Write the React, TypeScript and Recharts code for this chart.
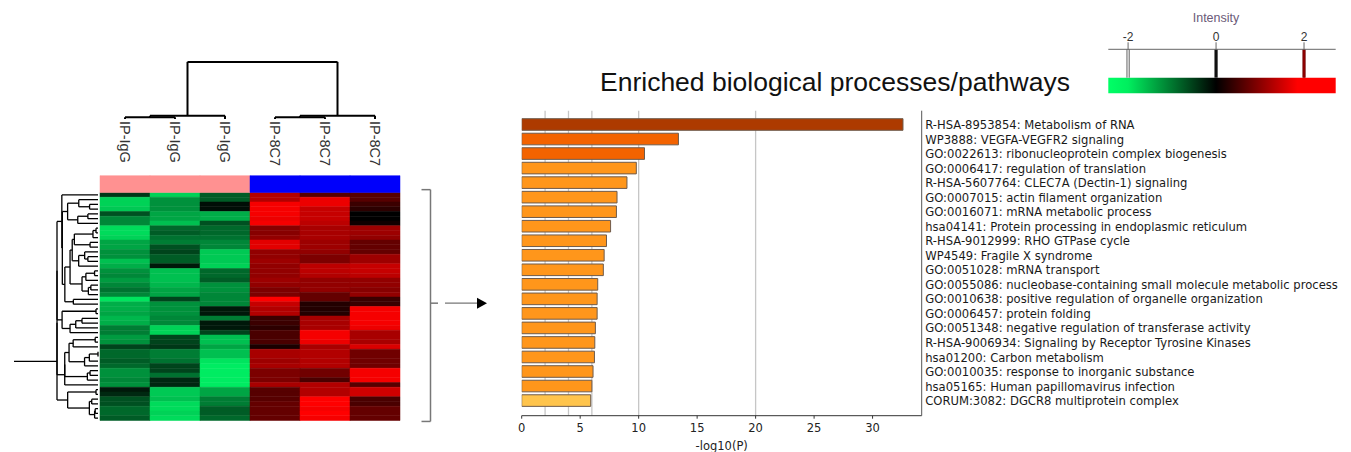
import {
  Bar,
  BarChart,
  CartesianGrid,
  Cell,
  ComposedChart,
  ReferenceArea,
  ReferenceDot,
  ReferenceLine,
  XAxis,
  YAxis,
} from "recharts";

const sampleNames = ["IP-IgG", "IP-IgG", "IP-IgG", "IP-8C7", "IP-8C7", "IP-8C7"];
const sampleGroups = ["IgG", "IgG", "IgG", "8C7", "8C7", "8C7"];

// heatmap intensity per sample, rows top to bottom
const iggA = [
  -0.3, -1.8, -1.8, -1.7, -0.5, -1.0, -1.0, -1.9, -1.9, -1.8, -1.3, -1.3, -1.1, -1.1, -1.6, -1.4,
  -1.1, -1.0, -1.2, -1.0, -0.8, -1.0, -2.0, -1.4, -1.4, -1.3, -1.5, -1.4, -0.9, -0.9, -1.2, -1.1,
  -0.4, -0.7, -0.7, -0.6, -0.7, -1.1, -1.1, -1.0, -1.1, -0.1, -0.2, -0.5, -0.5, -0.7, -0.7, -0.6,
];
const iggB = [
  -1.8, -1.1, -1.1, -1.1, -1.3, -1.3, -1.6, -0.7, -0.6, -0.8, -0.9, -0.5, -0.4, -0.6, -0.6, -0.1,
  -1.6, -1.6, -1.6, -1.5, -1.3, -1.3, -0.4, -1.1, -1.1, -1.1, -1.0, -1.0, -1.8, -1.8, -0.4, -0.4,
  -0.3, -0.9, -0.9, -0.8, -0.4, -0.4, -0.8, -0.2, -0.2, -1.7, -1.7, -1.6, -1.9, -1.9, -1.8, -1.9,
];
const iggC = [
  -0.6, -0.6, -0.05, -0.05, -1.4, -1.4, -0.5, -0.7, -0.7, -0.8, -1.0, -1.0, -1.7, -1.7, -1.7, -1.8,
  -0.7, -0.7, -0.6, -1.1, -1.1, -1.0, -1.0, -1.0, -0.1, -0.1, -0.9, -0.1, -0.1, -0.4, -1.6, -1.6,
  -1.3, -1.6, -1.6, -2.0, -2.2, -2.2, -2.2, -2.1, -2.2, -1.3, -1.3, -0.9, -0.9, -0.6, -0.6, -0.7,
];
const mabA = [
  1.3, 1.3, 2.0, 2.0, 2.0, 1.9, 2.0, 0.9, 0.9, 1.0, 1.8, 1.8, 1.0, 1.0, 1.1, 1.0,
  1.0, 1.0, 1.1, 1.0, 0.8, 0.8, 2.2, 1.5, 1.3, 1.3, 0.3, 0.3, 0.2, 0.4, 0.4, 0.4,
  0.1, 1.2, 1.2, 1.1, 1.2, 0.8, 0.8, 0.8, 1.2, 0.5, 0.5, 0.5, 0.6, 0.6, 0.6, 0.6,
];
const mabB = [
  0.5, 1.9, 1.9, 1.5, 1.5, 1.5, 1.4, 1.2, 1.2, 1.2, 1.1, 1.1, 1.0, 0.8, 0.8, 1.4,
  1.4, 1.3, 1.0, 1.0, 1.0, 0.6, 0.6, 0.15, 0.15, 0.15, 1.2, 1.2, 1.2, 2.0, 2.0, 1.9,
  1.2, 1.3, 1.3, 1.3, 1.3, 0.7, 0.7, 0.4, 1.3, 1.3, 1.3, 2.1, 2.1, 2.0, 2.1, 2.0,
];
const mabC = [
  0.5, 0.5, 0.3, 0.2, 0.0, 0.0, 0.05, 1.1, 1.1, 1.0, 0.6, 0.6, 0.6, 1.1, 1.1, 1.5,
  1.5, 1.4, 1.0, 1.0, 0.9, 1.0, 0.3, 0.3, 2.0, 2.0, 2.0, 2.0, 1.9, 1.2, 1.2, 1.2,
  1.7, 0.7, 0.7, 0.7, 0.7, 2.0, 2.0, 2.0, 0.5, 1.6, 1.6, 0.4, 0.4, 0.6, 0.6, 0.6,
];
const heatColumns = [iggA, iggB, iggC, mabA, mabB, mabC];

// sample tree, scipy style: [node, node, height]; leaves 0-5, merged nodes 6+
const colLinkage: [number, number, number][] = [
  [0, 1, 0.3],
  [6, 2, 0.55],
  [3, 4, 0.3],
  [8, 5, 0.55],
  [7, 9, 10],
];

const terms = [
  "R-HSA-8953854: Metabolism of RNA",
  "WP3888: VEGFA-VEGFR2 signaling",
  "GO:0022613: ribonucleoprotein complex biogenesis",
  "GO:0006417: regulation of translation",
  "R-HSA-5607764: CLEC7A (Dectin-1) signaling",
  "GO:0007015: actin filament organization",
  "GO:0016071: mRNA metabolic process",
  "hsa04141: Protein processing in endoplasmic reticulum",
  "R-HSA-9012999: RHO GTPase cycle",
  "WP4549: Fragile X syndrome",
  "GO:0051028: mRNA transport",
  "GO:0055086: nucleobase-containing small molecule metabolic process",
  "GO:0010638: positive regulation of organelle organization",
  "GO:0006457: protein folding",
  "GO:0051348: negative regulation of transferase activity",
  "R-HSA-9006934: Signaling by Receptor Tyrosine Kinases",
  "hsa01200: Carbon metabolism",
  "GO:0010035: response to inorganic substance",
  "hsa05165: Human papillomavirus infection",
  "CORUM:3082: DGCR8 multiprotein complex",
];
const logP = [
  32.6, 13.4, 10.5, 9.8, 9.0, 8.15, 8.1, 7.6, 7.25, 7.05, 6.98, 6.5, 6.45, 6.45, 6.3, 6.25,
  6.22, 6.1, 6.0, 5.9,
];
const logPTicks = [0, 5, 10, 15, 20, 25, 30];
const logPGrid = [2, 4, 6, 10, 20];
const intensityTicks = [-2, 0, 2];

const W = 1351;
const H = 452;
const MPL_FONT = "'DejaVu Sans', sans-serif";
const UI_FONT = "'Liberation Sans', Arial, sans-serif";

const nRows = iggA.length;
const heatRows = iggA.map((_, r) => heatColumns.map((col) => col[r]));
const barData = terms.map((term, i) => ({ term, value: logP[i] }));

// left panel axes: x in heatmap columns, y in heatmap rows
const LEFT_X: [number, number] = [-2, 8];
const LEFT_Y: [number, number] = [-38, 50];
const LEAF_X = -0.04;
const ROOT_X = -0.86;
const STUB_X = -1.72;

const INT_DOMAIN: [number, number] = [-2.45, 2.72];
const P_DOMAIN: [number, number] = [0, 34.2];

function heatColor(v: number) {
  const t = Math.min(1, Math.abs(v) / 2.1) ** 0.75;
  if (v < 0) return `rgb(0,${Math.round(236 * t)},${Math.round(98 * t)})`;
  return `rgb(${Math.round(255 * t)},0,0)`;
}

function barFill(v: number) {
  if (v > 20) return "#ad3a00";
  if (v > 10) return "#f36300";
  if (v >= 6) return "#ff961b";
  return "#ffc44c";
}

type Seg = [number, number, number, number];

// adjacency-constrained average linkage so the leaf order stays as drawn
function rowDendrogram(rows: number[][]) {
  const dist = (a: number[], b: number[]) =>
    Math.sqrt(a.reduce((s, v, i) => s + (v - b[i]) ** 2, 0));
  type Node = { y: number; h: number; m: number[] };
  const nodes: Node[] = rows.map((_, i) => ({ y: i + 0.5, h: 0, m: [i] }));
  const merges: { a: Node; b: Node; h: number }[] = [];
  while (nodes.length > 1) {
    let best = 0;
    let bestD = Infinity;
    for (let i = 0; i < nodes.length - 1; i++) {
      let s = 0;
      nodes[i].m.forEach((p) => nodes[i + 1].m.forEach((q) => (s += dist(rows[p], rows[q]))));
      const avg = s / (nodes[i].m.length * nodes[i + 1].m.length);
      if (avg < bestD) {
        bestD = avg;
        best = i;
      }
    }
    const a = nodes[best];
    const b = nodes[best + 1];
    const h = Math.max(bestD, a.h, b.h);
    merges.push({ a, b, h });
    nodes.splice(best, 2, { y: (a.y + b.y) / 2, h, m: [...a.m, ...b.m] });
  }
  const root = nodes[0];
  const xOf = (h: number) => LEAF_X - (h / root.h) * (LEAF_X - ROOT_X);
  const segs: Seg[] = [];
  merges.forEach(({ a, b, h }) => {
    segs.push([xOf(h), a.y, xOf(h), b.y]);
    segs.push([xOf(a.h), a.y, xOf(h), a.y]);
    segs.push([xOf(b.h), b.y, xOf(h), b.y]);
  });
  segs.push([ROOT_X, root.y, STUB_X, root.y]);
  return segs;
}

function colDendrogram() {
  const yOf = (h: number) => -15.5 - h * 1.2;
  const pos = heatColumns.map((_, i) => ({ x: i + 0.5, h: 0 }));
  const segs: Seg[] = [];
  colLinkage.forEach(([a, b, h]) => {
    const A = pos[a];
    const B = pos[b];
    segs.push([A.x, yOf(A.h), A.x, yOf(h)]);
    segs.push([B.x, yOf(B.h), B.x, yOf(h)]);
    segs.push([A.x, yOf(h), B.x, yOf(h)]);
    pos.push({ x: (A.x + B.x) / 2, h });
  });
  return segs;
}

const rowSegs = rowDendrogram(heatRows);
const colSegs = colDendrogram();

function seg([x1, y1, x2, y2]: Seg, stroke: string, width: number, key: string) {
  return (
    <ReferenceLine
      key={key}
      segment={[
        { x: x1, y: y1 },
        { x: x2, y: y2 },
      ]}
      stroke={stroke}
      strokeWidth={width}
      ifOverflow="visible"
    />
  );
}

function Heatmap() {
  const bracketTop = -0.6;
  const bracketBottom = nRows + 0.2;
  const mid = (bracketTop + bracketBottom) / 2 - 0.5;
  return (
    <ComposedChart
      width={500}
      height={418}
      data={[]}
      margin={{ top: 0, right: 0, bottom: 0, left: 0 }}
    >
      <XAxis type="number" dataKey="x" domain={LEFT_X} hide allowDataOverflow />
      <YAxis type="number" dataKey="y" domain={LEFT_Y} reversed hide allowDataOverflow />
      {heatRows.map((row, r) =>
        row.map((v, c) => (
          <ReferenceArea
            key={`c${r}-${c}`}
            x1={c}
            x2={c + 1}
            y1={r}
            y2={r + 1}
            fill={heatColor(v)}
            fillOpacity={1}
            stroke={heatColor(v)}
            strokeWidth={0.5}
            ifOverflow="visible"
          />
        )),
      )}
      {sampleGroups.map((g, c) => (
        <ReferenceArea
          key={`g${c}`}
          x1={c}
          x2={c + 1}
          y1={-3.55}
          y2={0}
          fill={g === "IgG" ? "#ff9191" : "#0000fb"}
          fillOpacity={1}
          stroke={g === "IgG" ? "#ff9191" : "#0000fb"}
          strokeWidth={0.5}
        />
      ))}
      {rowSegs.map((s, i) => seg(s, "#000", 1.3, `r${i}`))}
      {colSegs.map((s, i) => seg(s, "#000", 2, `k${i}`))}
      {seg([6.43, bracketTop, 6.61, bracketTop], "#777", 1.5, "b1")}
      {seg([6.61, bracketTop, 6.61, bracketBottom], "#777", 1.5, "b2")}
      {seg([6.43, bracketBottom, 6.61, bracketBottom], "#777", 1.5, "b3")}
      {seg([6.61, mid, 6.76, mid], "#777", 1.5, "b4")}
      {seg([6.9, mid, 7.6, mid], "#777", 1.3, "a1")}
      <ReferenceDot
        x={7.74}
        y={mid}
        r={1}
        ifOverflow="visible"
        shape={(p: { cx?: number; cy?: number }) => (
          <path
            d={`M${(p.cx ?? 0) - 10},${(p.cy ?? 0) - 5.5}L${p.cx},${p.cy}L${(p.cx ?? 0) - 10},${(p.cy ?? 0) + 5.5}Z`}
            fill="#000"
          />
        )}
      />
    </ComposedChart>
  );
}

function IntensityLegend() {
  const off = (v: number) => (v - INT_DOMAIN[0]) / (INT_DOMAIN[1] - INT_DOMAIN[0]);
  return (
    <ComposedChart
      width={251}
      height={110}
      data={[]}
      margin={{ top: 19.3, right: 15.3, bottom: 16.7, left: 8.3 }}
    >
      <defs>
        <linearGradient id="intensityGrad" x1="0" y1="0" x2="1" y2="0">
          <stop offset={0} stopColor="#00ff66" />
          <stop offset={off(-2)} stopColor="#00ee5e" />
          <stop offset={off(0)} stopColor="#000000" />
          <stop offset={off(1.85)} stopColor="#ff0000" />
          <stop offset={1} stopColor="#ff0000" />
        </linearGradient>
      </defs>
      <XAxis
        type="number"
        dataKey="x"
        orientation="top"
        domain={INT_DOMAIN}
        ticks={intensityTicks}
        height={30}
        tickSize={7}
        tickMargin={1}
        stroke="#666"
        tick={{ fontSize: 12, fill: "#333", fontFamily: UI_FONT }}
        allowDataOverflow
      />
      <YAxis type="number" dataKey="y" domain={[0, 1]} hide allowDataOverflow />
      <ReferenceArea
        x1={INT_DOMAIN[0]}
        x2={INT_DOMAIN[1]}
        y1={0}
        y2={0.355}
        fill="url(#intensityGrad)"
        fillOpacity={1}
        stroke="none"
      />
      {seg([-2, 0.355, -2, 1], "#7d7d7d", 3.5, "m1")}
      {seg([-2, 0.355, -2, 1], "#f0f0f0", 1.2, "m1b")}
      {seg([0, 0.355, 0, 1], "#111", 3.2, "m2")}
      {seg([2, 0.355, 2, 1], "#6e0000", 3.2, "m3")}
      {seg([2, 0.355, 2, 1], "#a00000", 1.2, "m3b")}
    </ComposedChart>
  );
}

function TermTick(p: { x?: number; y?: number; payload?: { value: string } }) {
  return (
    <text
      x={p.x}
      y={p.y}
      dy="0.35em"
      textAnchor="start"
      fontSize={11.6}
      fill="#1a1a1a"
      fontFamily={MPL_FONT}
    >
      {p.payload?.value}
    </text>
  );
}

function EnrichmentBars() {
  return (
    <BarChart
      layout="vertical"
      width={W}
      height={H}
      data={barData}
      margin={{ top: 110.7, right: 0, bottom: 0, left: 521.7 }}
      barSize={11.6}
    >
      <CartesianGrid
        horizontal={false}
        stroke="#c6c6c6"
        strokeWidth={1.3}
        verticalCoordinatesGenerator={(args: any) => {
          const scale = args?.xAxis?.scale;
          if (typeof scale === "function") return logPGrid.map((v) => scale(v));
          const o = args.offset;
          return logPGrid.map((v) => o.left + ((v - P_DOMAIN[0]) / (P_DOMAIN[1] - P_DOMAIN[0])) * o.width);
        }}
      />
      <XAxis
        type="number"
        dataKey="value"
        domain={P_DOMAIN}
        ticks={logPTicks}
        height={36.3}
        tickSize={3}
        tickMargin={5}
        stroke="#333"
        tick={{ fontSize: 11.5, fill: "#222", fontFamily: MPL_FONT }}
        label={{
          value: "-log10(P)",
          position: "insideBottom",
          offset: 2,
          style: { fontSize: 11.5, fill: "#222", fontFamily: MPL_FONT },
        }}
        allowDataOverflow
      />
      <XAxis
        xAxisId="top"
        type="number"
        orientation="top"
        domain={P_DOMAIN}
        height={0}
        tick={false}
        tickLine={false}
        stroke="#555"
      />
      <YAxis
        yAxisId="left"
        type="category"
        dataKey="term"
        width={0}
        tick={false}
        tickLine={false}
        stroke="#333"
      />
      <YAxis
        yAxisId="right"
        orientation="right"
        type="category"
        dataKey="term"
        width={429.3}
        interval={0}
        tickSize={0}
        tickMargin={3.5}
        tickLine={false}
        stroke="#555"
        padding={{ top: 7, bottom: 7.4 }}
        tick={<TermTick />}
      />
      <Bar dataKey="value" yAxisId="right" stroke="#6f5b4b" strokeWidth={1} isAnimationActive={false}>
        {barData.map((d) => (
          <Cell key={d.term} fill={barFill(d.value)} />
        ))}
      </Bar>
    </BarChart>
  );
}

export default function App() {
  return (
    <div
      style={{
        position: "absolute",
        left: 0,
        top: 0,
        width: W,
        height: H,
        background: "#fff",
        overflow: "hidden",
        fontFamily: UI_FONT,
      }}
    >
      <div style={{ position: "absolute", left: 0, top: 0 }}>
        <EnrichmentBars />
      </div>
      <div style={{ position: "absolute", left: 0, top: 11.5 }}>
        <Heatmap />
      </div>
      <div style={{ position: "absolute", left: 1100, top: 0 }}>
        <IntensityLegend />
      </div>
      {sampleNames.map((name, i) => (
        <div
          key={i}
          style={{
            position: "absolute",
            left: 100 + (i + 0.5) * 50 - 8,
            top: 121,
            writingMode: "vertical-rl",
            fontSize: 14.5,
            lineHeight: "16px",
            color: "#333",
          }}
        >
          {name}
        </div>
      ))}
      <div
        style={{
          position: "absolute",
          left: 1090,
          width: 252,
          top: 11,
          textAlign: "center",
          fontSize: 12.5,
          color: "#6b5a78",
        }}
      >
        Intensity
      </div>
      <div
        style={{
          position: "absolute",
          left: 600,
          top: 66,
          fontSize: 26.5,
          lineHeight: "32px",
          color: "#111",
          whiteSpace: "nowrap",
        }}
      >
        Enriched biological processes/pathways
      </div>
    </div>
  );
}
